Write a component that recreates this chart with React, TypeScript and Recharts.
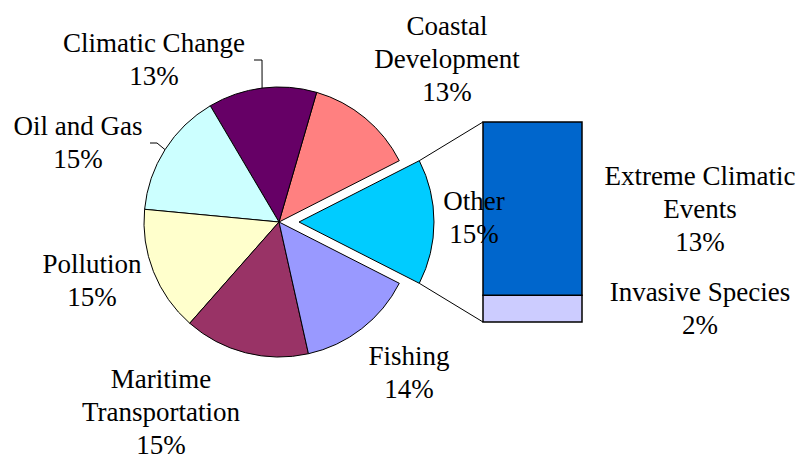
import React from "react";
import { PieChart, Pie, Cell, BarChart, Bar, XAxis, YAxis } from "recharts";

// ---- data ----
const categories = [
  "Other",
  "Coastal Development",
  "Climatic Change",
  "Oil and Gas",
  "Pollution",
  "Maritime Transportation",
  "Fishing",
];
const shares = [15, 13, 13, 15, 15, 15, 14];
const sliceColors = ["#00CCFF", "#FF8080", "#660066", "#CCFFFF", "#FFFFCC", "#993366", "#9999FF"];

const otherParts = ["Extreme Climatic Events", "Invasive Species"];
const otherValues = [13, 2];
const otherColors = ["#0066CC", "#CCCCFF"];

const labelLines: Record<string, string[]> = {
  "Coastal Development": ["Coastal", "Development"],
  "Maritime Transportation": ["Maritime", "Transportation"],
  "Extreme Climatic Events": ["Extreme Climatic", "Events"],
};

// ---- layout ----
const W = 798;
const H = 460;
const CX = 279;
const CY = 222;
const R = 135;
const EXPLODE = 20;
const FONT = 27;
const LINE = 33;
const FONT_FAMILY = "Liberation Serif";

const BAR_LEFT = 483;
const BAR_RIGHT = 582;
const BAR_TOP = 122;
const BAR_BOTTOM = 322;

// label anchor offsets (centre x, first baseline) relative to pie centre
const labelOffsets: Record<string, [number, number]> = {
  Other: [195, -12],
  "Coastal Development": [168, -187],
  "Climatic Change": [-125, -170],
  "Oil and Gas": [-201, -87],
  Pollution: [-187, 51],
  "Maritime Transportation": [-118, 166],
  Fishing: [130, 143],
};
// leader line elbows: [elbow, end] relative to pie centre
const leaders: Record<string, [[number, number], [number, number]]> = {
  "Climatic Change": [[-17, -162], [-25, -162]],
  "Oil and Gas": [[-122, -79], [-129, -79]],
};

const total = shares.reduce((a, b) => a + b, 0);
const otherHalfAngle = (360 * shares[0]) / total / 2;
const startAngle = -otherHalfAngle;
const endAngle = 360 - otherHalfAngle;

const pieData = categories.map((name, i) => ({ name, value: shares[i] }));
const explodedData = [
  { name: categories[0], value: shares[0] },
  { name: "rest", value: total - shares[0] },
];
const otherTotal = otherValues.reduce((a, b) => a + b, 0);
const barRow: Record<string, any> = { name: "Other" };
otherParts.forEach((p, i) => (barRow[p] = otherValues[i]));
const barData = [barRow];

const RAD = Math.PI / 180;

function textBlock(key: string, x: number, y: number, lines: string[]) {
  return (
    <g key={key}>
      {lines.map((l, i) => (
        <text
          key={i}
          x={x}
          y={y + i * LINE}
          textAnchor="middle"
          fontSize={FONT}
          fill="#000"
          fontFamily={FONT_FAMILY}
        >
          {l}
        </text>
      ))}
    </g>
  );
}

function renderPieLabel(props: any) {
  const { cx, cy, midAngle, outerRadius, index } = props;
  const name = categories[index];
  const value = shares[index];
  const off = labelOffsets[name];
  const lines = [...(labelLines[name] || [name]), `${value}%`];
  const lead = leaders[name];
  let leader = null;
  if (lead) {
    const sx = cx + outerRadius * Math.cos(-midAngle * RAD);
    const sy = cy + outerRadius * Math.sin(-midAngle * RAD);
    const pts = `${sx},${sy} ${cx + lead[0][0]},${cy + lead[0][1]} ${cx + lead[1][0]},${cy + lead[1][1]}`;
    leader = <polyline points={pts} fill="none" stroke="#000" strokeWidth={1} />;
  }
  return (
    <g key={`lbl-${index}`}>
      {leader}
      {textBlock("t", cx + off[0], cy + off[1], lines)}
    </g>
  );
}

function makeBarLabel(i: number) {
  return (props: any) => {
    const { x, y, width, height } = props;
    const name = otherParts[i];
    const lines = [...(labelLines[name] || [name]), `${otherValues[i]}%`];
    const centreY = y + height / 2;
    const firstBaseline = centreY + FONT * 0.33 - ((lines.length - 1) * LINE) / 2;
    return textBlock(`bl-${i}`, x + width + 118, firstBaseline, lines);
  };
}

export default function App() {
  const ex = CX + EXPLODE;
  const ux = ex + R * Math.cos(otherHalfAngle * RAD);
  const uy = CY - R * Math.sin(otherHalfAngle * RAD);
  const ly = CY + R * Math.sin(otherHalfAngle * RAD);
  // bottom-up stacking: invasive species at bottom
  const stackOrder = [1, 0];
  return (
    <div style={{ position: "absolute", left: 0, top: 0, width: W, height: H, background: "#fff" }}>
      <div style={{ position: "absolute", left: 0, top: 0 }}>
        <BarChart
          width={W}
          height={H}
          data={barData}
          margin={{ top: BAR_TOP, right: W - BAR_RIGHT, bottom: H - BAR_BOTTOM, left: BAR_LEFT }}
          barCategoryGap={0}
          barGap={0}
        >
          <XAxis dataKey="name" hide />
          <YAxis type="number" domain={[0, otherTotal]} hide />
          {stackOrder.map((i) => (
            <Bar
              key={otherParts[i]}
              dataKey={otherParts[i]}
              stackId="other"
              fill={otherColors[i]}
              stroke="#000"
              strokeWidth={1.5}
              label={makeBarLabel(i)}
              isAnimationActive={false}
            />
          ))}
        </BarChart>
      </div>
      <div style={{ position: "absolute", left: 0, top: 0 }}>
        <PieChart width={W} height={H} margin={{ top: 0, right: 0, bottom: 0, left: 0 }}>
          <Pie
            data={pieData}
            dataKey="value"
            nameKey="name"
            cx={CX}
            cy={CY}
            outerRadius={R}
            startAngle={startAngle}
            endAngle={endAngle}
            stroke="#000"
            strokeWidth={1}
            label={renderPieLabel}
            labelLine={false}
            isAnimationActive={false}
          >
            {pieData.map((d, i) => (
              <Cell
                key={d.name}
                fill={i === 0 ? "none" : sliceColors[i]}
                stroke={i === 0 ? "none" : "#000"}
              />
            ))}
          </Pie>
          <Pie
            data={explodedData}
            dataKey="value"
            nameKey="name"
            cx={CX + EXPLODE}
            cy={CY}
            outerRadius={R}
            startAngle={startAngle}
            endAngle={endAngle}
            stroke="#000"
            strokeWidth={1}
            labelLine={false}
            isAnimationActive={false}
          >
            <Cell fill={sliceColors[0]} stroke="#000" />
            <Cell fill="none" stroke="none" />
          </Pie>
        </PieChart>
      </div>
      <svg width={W} height={H} style={{ position: "absolute", left: 0, top: 0 }}>
        <line x1={ux} y1={uy} x2={BAR_LEFT} y2={BAR_TOP} stroke="#000" strokeWidth={1} />
        <line x1={ux} y1={ly} x2={BAR_LEFT} y2={BAR_BOTTOM} stroke="#000" strokeWidth={1} />
      </svg>
    </div>
  );
}
